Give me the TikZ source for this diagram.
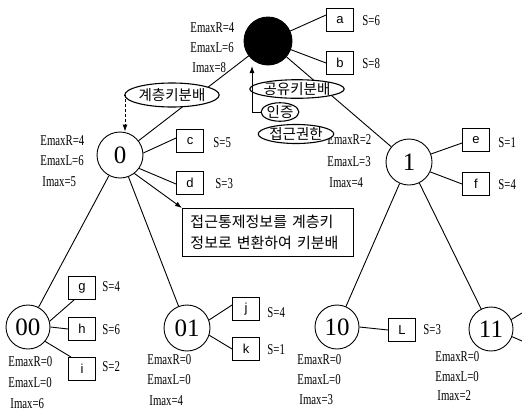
\documentclass[tikz,border=0pt]{standalone}
\usepackage{fontspec}
\setmainfont{Liberation Serif}
\newfontfamily\lblfont[FakeStretch=0.72]{Liberation Serif}
\newfontfamily\boxfont{Liberation Sans}
\newfontfamily\krfont{Noto Sans CJK KR}
\usetikzlibrary{arrows.meta,shapes.geometric}
\begin{document}
\begin{tikzpicture}[x=1pt,y=-1pt,line width=0.9pt,
  circnode/.style={circle,draw,inner sep=0pt,minimum size=#1,font=\fontsize{25}{25}\selectfont},
  lbl/.style={anchor=west,inner sep=0pt,font=\lblfont\fontsize{15}{15}\selectfont},
  keybox/.style={draw,minimum width=27pt,minimum height=23pt,inner sep=0pt,font=\boxfont\fontsize{13}{13}\selectfont},
  tag/.style={ellipse,draw,fill=white,line width=1.1pt,inner sep=0pt,font=\krfont\fontsize{14.5}{14.5}\selectfont},
  arr/.style={-{Latex[length=7pt,width=5pt]}}
]
\useasboundingbox (0,0) rectangle (522,413);

% tree nodes
\node[circnode=48pt,fill=black] (root) at (268,41) {};
\node[circnode=46pt] (n0) at (120,155) {0};
\node[circnode=46pt] (n1) at (409,162) {1};
\node[circnode=44pt] (n00) at (28,327) {00};
\node[circnode=46pt] (n01) at (187,328) {01};
\node[circnode=44pt] (n10) at (337,327) {10};
\node[circnode=44pt] (n11) at (491,329) {11};
\coordinate (x11a) at (522,313);
\coordinate (x11b) at (522,341);

% key boxes
\node[keybox] (a) at (340,20) {a};
\node[keybox] (b) at (340,63) {b};
\node[keybox] (c) at (190,141) {c};
\node[keybox] (d) at (190,183) {d};
\node[keybox] (e) at (476,140) {e};
\node[keybox] (f) at (476,184) {f};
\node[keybox] (g) at (82,288) {g};
\node[keybox] (h) at (82,329) {h};
\node[keybox] (i) at (82,369) {i};
\node[keybox] (j) at (246,309) {j};
\node[keybox] (k) at (246,349) {k};
\node[keybox] (L) at (402,330) {L};

% S labels
\node[lbl] (sa) at (362,21) {S=6};
\node[lbl] (sb) at (362,64) {S=8};
\node[lbl] (sc) at (213,143) {S=5};
\node[lbl] (sd) at (215,184) {S=3};
\node[lbl] (se) at (498,143) {S=1};
\node[lbl] (sf) at (498,185) {S=4};
\node[lbl] (sg) at (102,287) {S=4};
\node[lbl] (sh) at (102,330) {S=6};
\node[lbl] (si) at (102,367) {S=2};
\node[lbl] (sj) at (267,313) {S=4};
\node[lbl] (sk) at (267,350) {S=1};
\node[lbl] (sL) at (423,330) {S=3};

% stats labels
\node[lbl] (rR) at (190,28) {EmaxR=4};
\node[lbl] (rL) at (190,48) {EmaxL=6};
\node[lbl] (rI) at (192,68) {Imax=8};
\node[lbl] (aR) at (40,141) {EmaxR=4};
\node[lbl] (aL) at (40,161) {EmaxL=6};
\node[lbl] (aI) at (42,182) {Imax=5};
\node[lbl] (bR) at (327,140) {EmaxR=2};
\node[lbl] (bL) at (327,162) {EmaxL=3};
\node[lbl] (bI) at (329,183) {Imax=4};
\node[lbl] (cR) at (8,362) {EmaxR=0};
\node[lbl] (cL) at (8,383) {EmaxL=0};
\node[lbl] (cI) at (10,404) {Imax=6};
\node[lbl] (dR) at (147,360) {EmaxR=0};
\node[lbl] (dL) at (147,380) {EmaxL=0};
\node[lbl] (dI) at (149,401) {Imax=4};
\node[lbl] (eR) at (297,360) {EmaxR=0};
\node[lbl] (eL) at (297,380) {EmaxL=0};
\node[lbl] (eI) at (299,400) {Imax=3};
\node[lbl] (fR) at (435,357) {EmaxR=0};
\node[lbl] (fL) at (435,377) {EmaxL=0};
\node[lbl] (fI) at (437,396) {Imax=2};

% text box
\node[draw,anchor=north west,minimum width=171pt,minimum height=48pt,
      text width=155pt,inner xsep=8pt,inner ysep=0pt,align=left,
      font=\krfont\fontsize{15}{21}\selectfont] (tb) at (182,208)
      {접근통제정보를 계층키\\정보로 변환하여 키분배};

% tree edges
\draw (root) -- (n0);
\draw (root) -- (n1);
\draw (n0) -- (n00);
\draw (n0) -- (n01);
\draw (n1) -- (n10);
\draw (n1) -- (n11);

% box edges
\draw (root) -- ([yshift=5pt]a.west);
\draw (root) -- (b.west);
\draw (n0.5) -- ([yshift=3pt]c.west);
\draw (n0.-35) -- ([yshift=-1pt]d.west);
\draw (n1.20) -- ([yshift=-3pt]e.west);
\draw (n1.-25) -- (f.west);
\draw (n00.15) -- ([xshift=6pt]g.south west);
\draw (n00.east) -- (h.west);
\draw (n00.-40) -- ([xshift=3pt]i.north west);
\draw (n01.20) -- ([yshift=4pt]j.west);
\draw (n01.-18) -- (k.west);
\draw (n10.east) -- (L.west);
\draw (n11.25) -- (x11a);
\draw (n11.-20) -- (x11b);
\draw[arr] (n0.-52) -- (tb.north west);

% ellipse tags
\node[tag,minimum width=82pt,minimum height=24pt] (hk) at (172,95) {계층키분배};
\node[tag,minimum width=86pt,minimum height=17pt] (gy) at (297,89) {공유키분배};
\node[tag,minimum width=36pt,minimum height=16pt] (auth) at (280,112) {인증};
\node[tag,minimum width=64pt,minimum height=19pt] (acc) at (296,134) {접근권한};

\coordinate (uptip) at (252,66);
\draw[arr] (auth.west) -| (uptip);
\draw[arr,dash pattern=on 3pt off 2pt] (hk.west) -| ([xshift=5pt]n0.north);
\end{tikzpicture}
\end{document}
